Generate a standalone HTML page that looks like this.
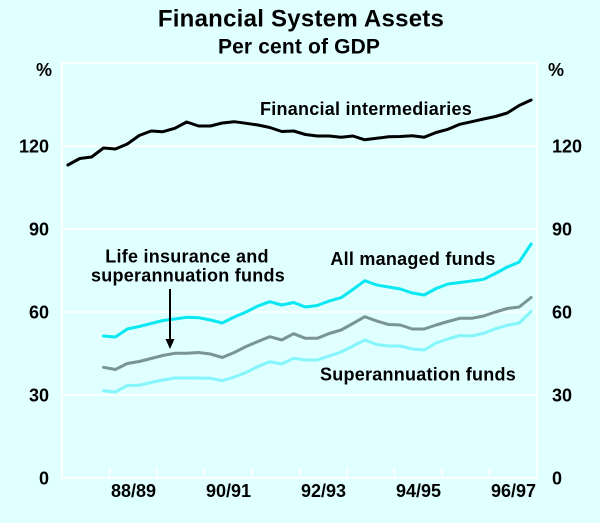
<!DOCTYPE html>
<html>
<head>
<meta charset="utf-8">
<style>
  html, body { margin: 0; padding: 0; background: #e0ffff; }
  svg { display: block; }
  text { font-family: "Liberation Sans", Arial, sans-serif; fill: #000; }
</style>
</head>
<body>
<svg width="600" height="523" viewBox="0 0 600 523" xmlns="http://www.w3.org/2000/svg">
  <rect x="0" y="0" width="600" height="523" fill="#e0ffff"/>

  <!-- Title -->
  <text x="301" y="26.7" font-size="24" font-weight="bold" text-anchor="middle" letter-spacing="0.25">Financial System Assets</text>
  <text x="299" y="53.3" font-size="21" font-weight="bold" text-anchor="middle" letter-spacing="0.15">Per cent of GDP</text>

  <!-- Plot frame and gridlines -->
  <g stroke="#ffffff" stroke-width="1.6" fill="none">
    <rect x="62" y="63" width="475" height="415"/>
    <line x1="62" y1="146" x2="537" y2="146"/>
    <line x1="62" y1="229" x2="537" y2="229"/>
    <line x1="62" y1="312" x2="537" y2="312"/>
    <line x1="62" y1="395" x2="537" y2="395"/>
    <!-- x ticks -->
    <line x1="109.5" y1="478" x2="109.5" y2="468"/>
    <line x1="157" y1="478" x2="157" y2="468"/>
    <line x1="204.5" y1="478" x2="204.5" y2="468"/>
    <line x1="252" y1="478" x2="252" y2="468"/>
    <line x1="299.5" y1="478" x2="299.5" y2="468"/>
    <line x1="347" y1="478" x2="347" y2="468"/>
    <line x1="394.5" y1="478" x2="394.5" y2="468"/>
    <line x1="442" y1="478" x2="442" y2="468"/>
    <line x1="489.5" y1="478" x2="489.5" y2="468"/>
  </g>

  <!-- Y axis labels -->
  <g font-size="18" font-weight="bold">
    <text x="52" y="76" text-anchor="end">%</text>
    <text x="49" y="152.5" text-anchor="end">120</text>
    <text x="49" y="235.5" text-anchor="end">90</text>
    <text x="49" y="318.5" text-anchor="end">60</text>
    <text x="49" y="401.5" text-anchor="end">30</text>
    <text x="49" y="484.5" text-anchor="end">0</text>

    <text x="548" y="76" text-anchor="start">%</text>
    <text x="552" y="152.5" text-anchor="start">120</text>
    <text x="552" y="235.5" text-anchor="start">90</text>
    <text x="552" y="318.5" text-anchor="start">60</text>
    <text x="552" y="401.5" text-anchor="start">30</text>
    <text x="552" y="484.5" text-anchor="start">0</text>

    <!-- X axis labels -->
    <text x="133.5" y="497" text-anchor="middle">88/89</text>
    <text x="228.5" y="497" text-anchor="middle">90/91</text>
    <text x="323.5" y="497" text-anchor="middle">92/93</text>
    <text x="418.5" y="497" text-anchor="middle">94/95</text>
    <text x="513.5" y="497" text-anchor="middle">96/97</text>
  </g>

  <!-- Series -->
  <g fill="none" stroke-width="3" stroke-linejoin="round" stroke-linecap="round">
    <!-- Superannuation funds (light cyan) -->
    <polyline stroke="#84f6fb" points="103.6,390.7 115.4,392 127.3,385.5 139.2,385.3 151.1,382.5 162.9,380 174.8,378 186.7,378 198.6,378 210.4,378.3 222.3,380.7 234.2,377 246.1,372.5 257.9,366.5 269.8,361.7 281.7,364 293.6,358.3 305.4,360 317.3,360 329.2,356 341.1,352 352.9,346 364.8,340 376.7,344.5 388.6,346 400.4,346 412.3,349 424.2,350 436.1,343 447.9,339 459.8,335.5 471.7,336 483.6,333.3 495.4,328.8 507.3,325.3 519.2,323 531.1,311.5"/>
    <!-- Life insurance and superannuation funds (grey) -->
    <polyline stroke="#7a9494" points="103.6,367.3 115.4,369.5 127.3,363.5 139.2,361.5 151.1,358.5 162.9,355.5 174.8,353.3 186.7,353.3 198.6,352.5 210.4,354 222.3,357.5 234.2,352.5 246.1,346.5 257.9,341.5 269.8,336.7 281.7,340 293.6,333.7 305.4,338.3 317.3,338.3 329.2,333.5 341.1,330 352.9,323.5 364.8,316.7 376.7,321 388.6,324.5 400.4,325 412.3,329 424.2,329 436.1,325 447.9,321.5 459.8,318.3 471.7,318.3 483.6,316 495.4,312 507.3,308.5 519.2,307 531.1,297.5"/>
    <!-- All managed funds (cyan) -->
    <polyline stroke="#08e8f2" points="103.6,336 115.4,337 127.3,329 139.2,326.5 151.1,323.5 162.9,320.5 174.8,319 186.7,317.3 198.6,317.7 210.4,320 222.3,323 234.2,317 246.1,312 257.9,306 269.8,301.7 281.7,305 293.6,302.5 305.4,307 317.3,305.5 329.2,301 341.1,297.7 352.9,289.5 364.8,280.7 376.7,285 388.6,287 400.4,289 412.3,293 424.2,295 436.1,288.5 447.9,284 459.8,282.5 471.7,281 483.6,279.3 495.4,273.5 507.3,267 519.2,262 531.1,244"/>
    <!-- Financial intermediaries (black) -->
    <polyline stroke="#000000" points="67.9,165 79.8,158.5 91.6,157 103.5,148 115.4,149 127.3,144 139.2,135.5 151.1,131 162.9,131.7 174.8,128.3 186.7,122 198.6,126 210.4,126 222.3,123 234.2,121.7 246.1,123.3 257.9,125 269.8,127.5 281.7,131.5 293.6,131 305.4,134.5 317.3,136 329.2,136 341.1,137.3 352.9,136 364.8,139.8 376.7,138.3 388.6,136.8 400.4,136.5 412.3,135.8 424.2,137.2 436.1,132.5 447.9,129.3 459.8,124.3 471.7,121.7 483.6,119 495.4,116.5 507.3,113 519.2,105.5 531.1,100"/>
  </g>

  <!-- Arrow -->
  <line x1="170" y1="289" x2="170" y2="340" stroke="#000" stroke-width="2"/>
  <polygon points="165.5,339 174.5,339 170,349" fill="#000"/>

  <!-- Series labels -->
  <g font-size="18" font-weight="bold" text-anchor="middle" letter-spacing="0.25">
    <text x="366" y="115">Financial intermediaries</text>
    <text x="187" y="262.3">Life insurance and</text>
    <text x="188" y="281.7">superannuation funds</text>
    <text x="413" y="265">All managed funds</text>
    <text x="418" y="380.7">Superannuation funds</text>
  </g>
</svg>
</body>
</html>
